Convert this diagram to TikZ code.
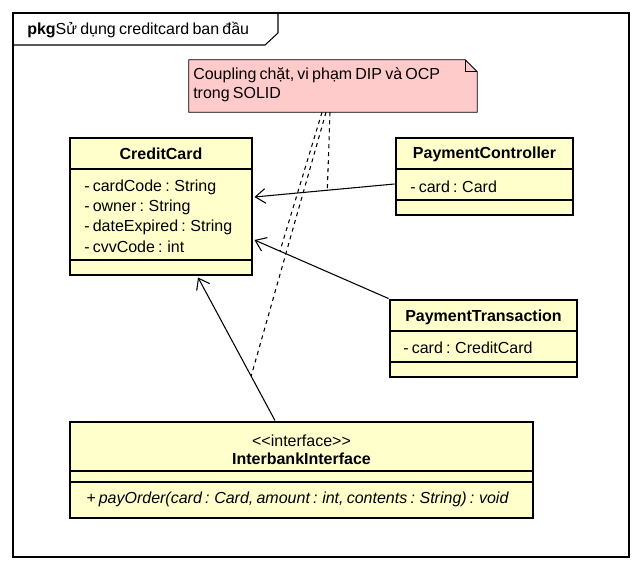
\documentclass[tikz,border=0pt]{standalone}
\usepackage{fontspec}
\setmainfont{Liberation Sans}
\usetikzlibrary{arrows.meta,calc}
\definecolor{classfill}{RGB}{255,255,204}
\definecolor{notefill}{RGB}{255,202,202}
\newcommand{\umlfont}{\fontsize{12}{14}\selectfont\spaceskip 0.2em\relax}
\begin{document}
\begin{tikzpicture}[x=0.75pt,y=-0.75pt,
        every node/.style={font=\umlfont, inner sep=0pt},
        classbox/.style={draw, line width=2.2pt, fill=classfill},
        sep/.style={line width=0.8pt},
        assoc/.style={line width=0.8pt, -{Straight Barb[length=7.5pt,width=11pt]}},
        noteline/.style={dashed, line width=0.8pt}]
    \useasboundingbox (0,0) rectangle (642,570);
    \draw[line width=0.8pt] (13,13) rectangle (629,557);
    \draw[line width=0.8pt] (13,45) -- (265,45) -- (278,33) -- (278,13);
    \node[anchor=west] (title) at (27,30) {\textbf{pkg}Sử dụng creditcard ban đầu};

    \node[minimum width=216pt, minimum height=39pt] (note) at (333,86) {};
    \draw[fill=notefill, line width=0.6pt] (note.north west) -- ($(note.north east)+(-12,0)$) -- ($(note.north east)+(0,12)$) -- (note.south east) -- (note.south west) -- cycle;
    \draw[line width=0.6pt] ($(note.north east)+(-12,0)$) -- ($(note.north east)+(-12,12)$) -- ($(note.north east)+(0,12)$);
    \node[anchor=west] (notel1) at (193,75) {Coupling chặt, vi phạm DIP và OCP};
    \node[anchor=west] (notel2) at (193,95) {trong SOLID};

    \node[classbox, minimum width=136.5pt, minimum height=102.75pt] (cc) at (161,206.5) {};
    \node (ccname) at (161,154) {\textbf{CreditCard}};
    \draw[sep] (70,169) -- (252,169);
    \node[anchor=west] (cc1) at (84,187) {- cardCode : String};
    \node[anchor=west] (cc2) at (84,207) {- owner : String};
    \node[anchor=west] (cc3) at (84,227) {- dateExpired : String};
    \node[anchor=west] (cc4) at (84,247) {- cvvCode : int};
    \draw[sep] (70,260) -- (252,260);

    \node[classbox, minimum width=132.75pt, minimum height=57.75pt] (ctrl) at (484.5,176.5) {};
    \node (ctrlname) at (484.5,154) {\textbf{PaymentController}};
    \draw[sep] (396,169) -- (573,169);
    \node[anchor=west] (ctrl1) at (410,187) {- card : Card};
    \draw[sep] (396,200) -- (573,200);

    \node[classbox, minimum width=140.25pt, minimum height=57.75pt] (trans) at (483.5,338.5) {};
    \node (transname) at (483.5,317) {\textbf{PaymentTransaction}};
    \draw[sep] (390,331) -- (577,331);
    \node[anchor=west] (trans1) at (403,348) {- card : CreditCard};
    \draw[sep] (390,362) -- (577,362);

    \node[classbox, minimum width=347.25pt, minimum height=72pt] (ib) at (301.5,470) {};
    \node (ibster) at (301.5,441) {<{}<interface>{}>};
    \node (ibname) at (301.5,459) {\textbf{InterbankInterface}};
    \draw[sep] (70,471) -- (533,471);
    \draw[sep] (70,482) -- (533,482);
    \node[anchor=west] (ib1) at (86,499) {\itshape + payOrder(card : Card, amount : int, contents : String) : void};

    \draw[assoc] ($(ctrl.west)+(0,7.5)$) -- coordinate[pos=0.48] (m1) ($(cc.east)+(1,-9.5)$);
    \draw[assoc] (trans.north west) -- coordinate[pos=0.81] (m2) ($(cc.east)+(1,33.5)$);
    \draw[assoc] ($(ib.north)+(-26.5,0)$) -- coordinate[pos=0.31] (m3) ($(cc.south)+(37,1)$);

    \draw[noteline] ($(note.south)+(-3,0)$) -- (m1);
    \draw[noteline] ($(note.south)+(-11,0)$) -- (m2);
    \draw[noteline] ($(note.south)+(-7,0)$) -- (m3);
\end{tikzpicture}
\end{document}
